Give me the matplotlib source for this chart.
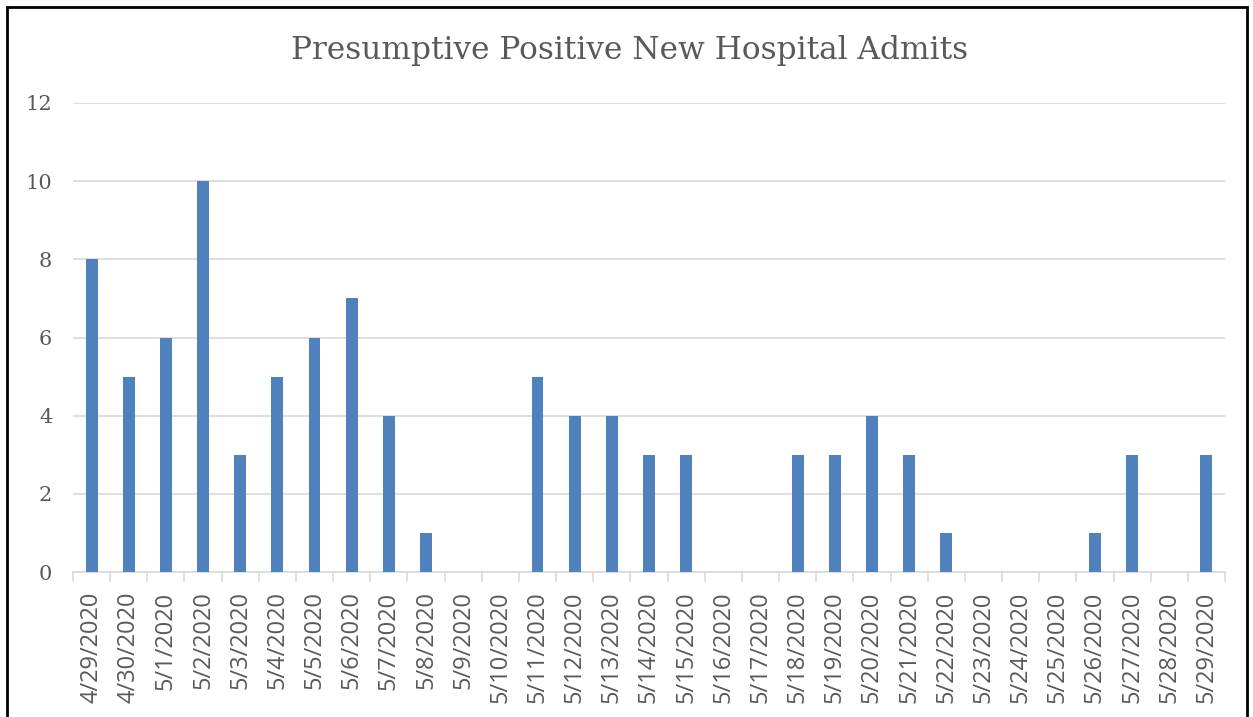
import matplotlib.pyplot as plt
from matplotlib.patches import Rectangle

fechas = ["4/29/2020", "4/30/2020"] + [f"5/{d}/2020" for d in range(1, 30)]
admisiones = [8, 5, 6, 10, 3, 5, 6, 7, 4, 1, 0, 0, 5, 4, 4, 3, 3, 0, 0, 3,
              3, 4, 3, 1, 0, 0, 0, 1, 3, 0, 3]
yticks = [0, 2, 4, 6, 8, 10, 12]

color_barra = "#4f81bd"
color_texto = "#595959"
color_grid = "#d9d9d9"

fig = plt.figure(figsize=(12.53, 7.17), dpi=100)
ax = fig.add_axes([73 / 1253, 145 / 717, 1152 / 1253, 469 / 717])

x = list(range(len(fechas)))
ax.bar(x, admisiones, width=0.32, color=color_barra, zorder=3)

ax.set_xlim(-0.5, len(fechas) - 0.5)
ax.set_ylim(0, 12)
ax.set_yticks(yticks)
ax.set_yticklabels([str(v) for v in yticks], family="DejaVu Serif",
                   fontsize=15, color=color_texto)
ax.grid(axis="y", color=color_grid, linewidth=1.2, zorder=0)
ax.tick_params(axis="y", length=0, pad=15)

ax.set_xticks(x)
ax.set_xticklabels(fechas, rotation=90, family="Open Sans", fontsize=17,
                   color=color_texto)
ax.set_xticks([i - 0.5 for i in range(len(fechas) + 1)], minor=True)
ax.tick_params(axis="x", which="major", length=0, pad=14)
ax.tick_params(axis="x", which="minor", length=7, color=color_grid, width=1.2)

for lado in ["top", "right", "left"]:
    ax.spines[lado].set_visible(False)
ax.spines["bottom"].set_color(color_grid)
ax.spines["bottom"].set_linewidth(1.2)

fig.text(630 / 1253, 1 - 51 / 717, "Presumptive Positive New Hospital Admits",
         family="DejaVu Serif", fontsize=22.5, color=color_texto,
         ha="center", va="center")

fig.patches.append(Rectangle((7 / 1253, -0.05), 1240 / 1253, 1 - 7 / 717 + 0.05,
                             transform=fig.transFigure, fill=False,
                             edgecolor="black", linewidth=2))

fig.savefig("out.png", dpi=100)
